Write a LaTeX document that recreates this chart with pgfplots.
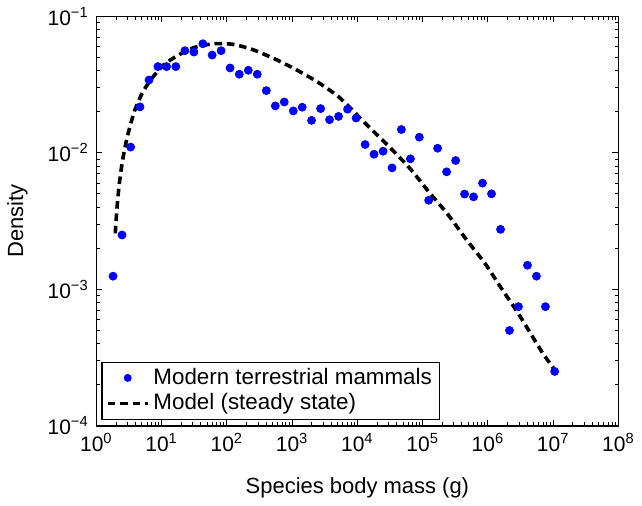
\documentclass[border=0pt]{standalone}
\usepackage{fontspec}
\setmainfont{Liberation Sans}
\usepackage{pgfplots}
\pgfplotsset{compat=1.18}
\begin{document}
\fontsize{11}{13}\selectfont
\begin{tikzpicture}
\begin{axis}[
  scale only axis, width=261.5pt, height=205pt,
  xmode=log, ymode=log,
  xmin=1, xmax=1e8, ymin=1e-4, ymax=1e-1,
  axis line style={line width=0.8pt},
  major tick length=3pt, minor tick length=1.8pt,
  every tick/.style={black, line width=0.5pt},
  xtick={1,10,100,1000,1e4,1e5,1e6,1e7,1e8},
  xticklabels={10\textsuperscript{0},10\textsuperscript{1},10\textsuperscript{2},10\textsuperscript{3},10\textsuperscript{4},10\textsuperscript{5},10\textsuperscript{6},10\textsuperscript{7},10\textsuperscript{8}},
  ytick={1e-4,1e-3,1e-2,1e-1},
  yticklabels={10\textsuperscript{−4},10\textsuperscript{−3},10\textsuperscript{−2},10\textsuperscript{−1}},
  tick label style={font=\fontsize{10.5}{12}\selectfont},
  xlabel={Species body mass (g)}, ylabel={Density},
  label style={font=\fontsize{11}{13}\selectfont},
  xlabel style={at={(axis description cs:0.5,-0.152)}, anchor=center},
  ylabel style={at={(axis description cs:-0.151,0.5)}, anchor=center},
  legend style={at={(axis description cs:0.0096,0.0146)}, anchor=south west,
    draw=black, line width=0.6pt, font=\fontsize{11.2}{13}\selectfont,
    inner xsep=2pt, inner ysep=1pt, row sep=-1pt},
  legend cell align=left,
]
\addplot[only marks, mark=*, mark size=2pt, blue, mark options={draw=blue, fill=blue},
  legend image code/.code={\fill[blue, draw=none] (10pt,0pt) circle (2pt); \path[draw=none, fill=none] (0pt,0pt) -- (20pt,0pt);}]
coordinates {
(1.80,0.001247) (2.47,0.00250) (3.35,0.01102) (4.66,0.02173) (6.40,0.0342)
(8.77,0.0429) (11.9,0.0429) (16.5,0.0429) (22.7,0.0561) (31.2,0.0548)
(42.8,0.0631) (59.4,0.0521) (81.5,0.0561) (112,0.0419) (155,0.0377)
(213,0.0403) (292,0.0377) (402,0.0286) (552,0.0221) (757,0.0236)
(1040,0.0203) (1426,0.0216) (1982,0.0173) (2729,0.0211) (3741,0.0175)
(5140,0.0185) (7063,0.0209) (9550,0.0180) (13120,0.01151) (17990,0.00977)
(24720,0.01028) (33960,0.00776) (47210,0.01483) (64860,0.00904) (88920,0.01303)
(123600,0.00449) (169400,0.01081) (232800,0.00726) (319900,0.00879) (438500,0.00499)
(602600,0.00476) (826000,0.00600) (1135000,0.00501) (1560000,0.00275) (2138000,0.000499)
(2938000,0.000746) (4036000,0.00150) (5534000,0.001247) (7603000,0.000746) (10540000,0.000250)
};
\addlegendentry{Modern terrestrial mammals}
\addplot[black, line width=1.8pt, dash pattern=on 3.8pt off 2.4pt, smooth, tension=0.4,
  legend image code/.code={\draw[black, line width=1.8pt, dash pattern=on 3.8pt off 2.4pt] (0pt,0pt) -- (20pt,0pt);}]
coordinates {
(1.95,0.00257) (2.00,0.00316) (2.09,0.00417) (2.24,0.00589) (2.51,0.00871)
(2.95,0.01288) (3.80,0.0200) (5.01,0.0272) (6.76,0.0342) (10.7,0.0441)
(17.4,0.0515) (30.9,0.0590) (63.1,0.0631) (126,0.0624) (257,0.0568)
(589,0.0479) (1175,0.0405) (2399,0.0333) (4898,0.0263) (7586,0.0216)
(14790,0.0156) (31620,0.01094) (64570,0.00764) (128800,0.00507) (245500,0.00352)
(467700,0.00231) (891300,0.00156) (1622000,0.00101) (2884000,0.000671) (6607000,0.000352)
(10000000,0.000266)
};
\addlegendentry{Model (steady state)}
\end{axis}
\end{tikzpicture}
\end{document}
